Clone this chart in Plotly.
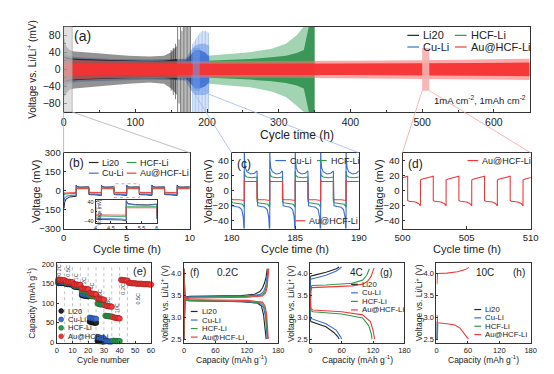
import plotly.graph_objects as go

W, H = 554, 374
FONT = "Liberation Sans, Arial, Helvetica, sans-serif"
INK = "#222222"
C_LI20 = "#262626"
C_CU = "#3a6fd0"
C_HCF = "#2f9a4e"
C_AU = "#f03a3a"

SERIES = ["Li20", "Cu-Li", "HCF-Li", "Au@HCF-Li"]
SCOL = [C_LI20, C_CU, C_HCF, C_AU]

# ---------------- panel (a): long-term cycling envelopes (mV) ----------------
li20_t = [0, 3, 8, 15, 30, 60, 90, 120, 140, 150, 158]
li20_hi = [80, 55, 45, 42, 40, 36, 32, 30, 32, 40, 55]
li20_lo = [-65, -60, -48, -45, -42, -38, -34, -31, -34, -45, -60]
li20_core = [30, 28, 26, 25, 24, 22, 20, 19, 20, 22, 24]
li20_spk_t = [150, 153, 156, 159, 161, 163, 165, 167, 169, 171, 173, 175, 177]
li20_spk_hi = [45, 50, 60, 100, 70, 100, 90, 100, 100, 100, 100, 100, 100]
li20_spk_lo = [-50, -60, -70, -100, -80, -100, -100, -100, -100, -100, -100, -100, -100]

cu_t = [0, 5, 20, 60, 120, 170, 178, 183, 190, 197, 203]
cu_hi = [40, 32, 28, 25, 23, 25, 45, 55, 60, 60, 55]
cu_lo = [-45, -34, -29, -26, -24, -26, -50, -60, -60, -60, -55]
cu_core = [28, 25, 23, 21, 19, 20, 35, 45, 45, 40, 30]
cu_spk_t = [180, 182, 184, 186, 188, 190, 192, 194, 196, 198, 200, 202]
cu_spk_hi = [60, 65, 70, 75, 80, 85, 88, 90, 90, 90, 88, 85]
cu_spk_lo = [-100, -100, -100, -100, -100, -100, -100, -100, -100, -100, -100, -100]

hcf_t = [0, 20, 60, 120, 180, 200, 230, 260, 290, 310, 325, 335, 342, 350]
hcf_hi = [30, 25, 22, 22, 25, 32, 36, 40, 48, 60, 80, 100, 100, 100]
hcf_lo = [-30, -25, -22, -22, -25, -33, -38, -42, -52, -65, -85, -100, -100, -100]
hcf_core = [20, 18, 17, 17, 18, 20, 22, 24, 28, 32, 38, 45, 100, 100]

au_t = [0, 5, 20, 60, 120, 200, 300, 400, 500, 580, 650]
au_hi = [28, 24, 22, 20, 19, 19, 19, 20, 21, 23, 25]
au_lo = [-30, -25, -23, -21, -20, -20, -20, -21, -22, -24, -25]
au_core = [17, 15, 14, 13, 13, 13, 13, 13, 14, 15, 16]

# ---------------- panel (b): first 10 h (mV) ----------------
b_first_f = [0, 0.02, 0.08, 0.2, 0.5, 1.0]
li20_b_first = [-10, -140, -95, -65, -50, -45]
cu_b_first = [-10, -80, -60, -45, -38, -36]
hcf_b_first = [-10, -35, -30, -26, -24, -23]
au_b_first = [-10, -22, -20, -18, -17, -16]
b_neg_f = [0, 0.1, 0.5, 0.85, 1.0]
b_pos_f = [0, 0.05, 0.3, 0.7, 1.0]
li20_b_neg = [-30, -32, -33, -34, -38]
li20_b_pos = [45, 32, 28, 27, 30]
cu_b_neg = [-25, -27, -28, -30, -34]
cu_b_pos = [40, 30, 26, 25, 28]
hcf_b_neg = [-17, -18, -19, -19, -21]
hcf_b_pos = [25, 20, 19, 19, 20]
au_b_neg = [-13, -14, -14, -14, -15]
au_b_pos = [17, 15, 15, 15, 15]

# ---------------- panel (c): 180-190 h (mV) ----------------
cu_c_neg_f = [0, 0.05, 0.3, 0.6, 0.8, 0.92, 1.0]
cu_c_neg = [-18, -20, -21, -22, -25, -35, -60]
cu_c_pos_f = [0, 0.02, 0.08, 0.2, 0.5, 0.8, 1.0]
cu_c_pos = [60, 42, 30, 25, 22, 23, 26]
hcf_c_neg_f = [0, 0.1, 0.5, 0.85, 1.0]
hcf_c_neg = [-14, -16, -17, -18, -22]
hcf_c_pos_f = [0, 0.05, 0.2, 0.6, 1.0]
hcf_c_pos = [26, 20, 18, 17, 18]
au_c_neg_f = [0, 0.1, 0.6, 1.0]
au_c_neg = [-11, -12, -12, -13]
au_c_pos_f = [0, 0.05, 0.5, 1.0]
au_c_pos = [14, 12, 12, 12]

# ---------------- panel (d): 500-510 h (mV) ----------------
au_d_neg_f = [0, 0.1, 0.6, 0.85, 1.0]
au_d_neg = [-13, -14, -15, -17, -20]
au_d_pos_f = [0, 0.1, 0.6, 1.0]
au_d_pos = [14, 15, 17, 19]

# ---------------- panel (e): rate capability (mAh/g) ----------------
li20_cap = [152, 153, 152, 152, 151, 150, 149, 149, 148, 148, 143, 142, 142, 141, 141,
            121, 120, 119, 119, 118, 53, 52, 51, 50, 50, 4, 3, 3, 2, 2]
cu_cap = [155, 155, 154, 154, 154, 152, 151, 151, 151, 150, 145, 144, 144, 143, 143,
          124, 123, 122, 122, 121, 63, 62, 61, 60, 60, 13, 12, 11, 11, 10, 3, 3, 2, 2, 2]
hcf_cap = [158, 158, 157, 157, 157, 153, 153, 152, 152, 152, 146, 145, 145, 144, 144,
           131, 130, 130, 129, 129, 119, 118, 118, 117, 117, 99, 98, 97, 97, 96,
           68, 67, 67, 66, 66, 4, 3, 3, 3, 3]
au_cap = [161, 160, 160, 159, 159, 156, 155, 155, 154, 154, 149, 148, 148, 147, 147,
          138, 137, 137, 136, 136, 126, 125, 124, 124, 123, 112, 111, 110, 110, 109,
          94, 93, 92, 92, 91, 64, 63, 62, 62, 61, 160, 159, 159, 158, 158,
          152, 152, 151, 151, 151, 150, 150, 150, 150, 149, 149, 149, 149, 148, 148]
e_rate_labels = ["0.2C", "0.5C", "1C", "2C", "4C", "6C", "8C", "10C", "0.2C", "0.5C"]
e_seg_bounds = [5, 10, 15, 20, 25, 30, 35, 40, 45]

# ---------------- panels (f,g,h): charge/discharge profiles (mAh/g, V) ----------------
li20_f_cc = [0, 0.5, 2, 10, 60, 110, 135, 145, 150, 154, 157, 159]
li20_f_cv = [2.5, 3.3, 3.45, 3.47, 3.48, 3.49, 3.52, 3.58, 3.66, 3.78, 3.92, 4.1]
li20_f_dc = [0, 0.5, 2, 10, 60, 110, 140, 148, 152, 155, 157]
li20_f_dv = [4.1, 3.5, 3.39, 3.37, 3.36, 3.35, 3.32, 3.25, 3.05, 2.75, 2.5]
cu_f_cc = [0, 0.5, 2, 10, 60, 120, 145, 152, 156, 159, 161]
cu_f_cv = [2.5, 3.3, 3.44, 3.46, 3.47, 3.48, 3.51, 3.58, 3.7, 3.9, 4.1]
cu_f_dc = [0, 0.5, 2, 10, 60, 120, 145, 152, 156, 158, 159]
cu_f_dv = [4.1, 3.5, 3.38, 3.37, 3.36, 3.35, 3.31, 3.22, 3.0, 2.7, 2.5]
hcf_f_cc = [0, 0.5, 2, 10, 60, 120, 148, 154, 158, 160, 161]
hcf_f_cv = [2.5, 3.3, 3.43, 3.45, 3.46, 3.47, 3.5, 3.56, 3.7, 3.9, 4.1]
hcf_f_dc = [0, 0.5, 2, 10, 60, 120, 148, 154, 157, 159, 160]
hcf_f_dv = [4.1, 3.5, 3.39, 3.38, 3.37, 3.36, 3.32, 3.22, 3.0, 2.7, 2.5]
au_f_cc = [0, 0.5, 2, 10, 60, 120, 150, 156, 159, 161, 162]
au_f_cv = [2.5, 3.3, 3.41, 3.43, 3.44, 3.45, 3.48, 3.55, 3.7, 3.9, 4.1]
au_f_dc = [0, 0.5, 2, 10, 60, 120, 150, 155, 158, 160, 161]
au_f_dv = [4.1, 3.5, 3.41, 3.4, 3.39, 3.38, 3.34, 3.25, 3.05, 2.75, 2.5]

li20_g_cc = [0, 0.5, 10, 30, 50, 55]
li20_g_cv = [2.9, 3.93, 3.96, 4.02, 4.1, 4.14]
li20_g_dc = [0, 1, 30, 45, 53, 55]
li20_g_dv = [3.0, 2.9, 2.78, 2.65, 2.55, 2.5]
cu_g_cc = [0, 0.5, 10, 30, 50, 60]
cu_g_cv = [2.97, 3.86, 3.89, 3.95, 4.05, 4.14]
cu_g_dc = [0, 1, 30, 50, 58, 60]
cu_g_dv = [3.05, 2.97, 2.85, 2.7, 2.55, 2.5]
hcf_g_cc = [0.5, 1, 3, 30, 80, 100, 108, 113]
hcf_g_cv = [3.12, 3.6, 3.72, 3.73, 3.77, 3.84, 3.95, 4.1]
hcf_g_dc = [0.5, 1, 5, 60, 100, 112, 117, 118]
hcf_g_dv = [3.3, 3.15, 3.12, 3.07, 2.98, 2.8, 2.6, 2.5]
au_g_cc = [0.5, 1, 3, 30, 80, 100, 110, 116, 122]
au_g_cv = [3.2, 3.58, 3.67, 3.68, 3.71, 3.75, 3.82, 3.92, 4.12]
au_g_dc = [0.5, 1, 5, 60, 100, 115, 120, 123]
au_g_dv = [3.35, 3.2, 3.16, 3.12, 3.05, 2.9, 2.7, 2.5]

li20_h_c = [0.4, 0.6, 1.0]
li20_h_v = [2.5, 2.75, 2.9]
cu_h_c = [0.8, 1.0, 1.5]
cu_h_v = [2.5, 2.75, 2.9]
hcf_h_c = [1.5, 1.8, 2.5]
hcf_h_v = [2.5, 2.7, 2.85]
au_h_cc = [0.8, 0.9, 2, 20, 40, 55, 62]
au_h_cv = [3.75, 3.97, 3.99, 4.0, 4.03, 4.08, 4.13]
au_h_dc = [0.8, 1, 2, 20, 35, 45, 52, 58, 61]
au_h_dv = [3.05, 2.9, 2.87, 2.85, 2.82, 2.75, 2.65, 2.55, 2.5]

# ---------------- layout geometry (pixels) ----------------
BOX = {
    'a': (49, 529, 13, 101), 'b': (49, 179, 143, 221), 'c': (222, 353, 143, 221),
    'd': (398, 530, 143, 221), 'e': (42, 139, 257, 339), 'f': (173, 270, 257, 339),
    'g': (303, 400, 257, 339), 'h': (433, 530, 257, 339), 'i': (82, 145, 192, 215),
}
AXID = {'a': '', 'b': '2', 'c': '3', 'd': '4', 'e': '5', 'f': '6', 'g': '7', 'h': '8', 'i': '9'}
RNG = {
    'a': ([0, 650], [-100, 100]), 'b': ([0, 10], [-300, 300]), 'c': ([180, 190], [-50, 50]),
    'd': ([500, 510], [-50, 50]), 'e': ([0, 60], [-2, 202]), 'f': ([0, 180], [2.41, 4.22]),
    'g': ([0, 180], [2.41, 4.22]), 'h': ([0, 180], [2.41, 4.22]), 'i': ([4, 6], [-45, 45]),
}


def px2x(p):
    return p / W


def py2y(p):
    return 1 - p / H


def data2px(panel, x, y):
    x0, x1, y0, y1 = BOX[panel]
    (xa, xb), (ya, yb) = RNG[panel]
    return x0 + (x - xa) / (xb - xa) * (x1 - x0), y1 - (y - ya) / (yb - ya) * (y1 - y0)


fig = go.Figure()


def add(tr, panel):
    tr.update(xaxis='x' + AXID[panel], yaxis='y' + AXID[panel], showlegend=False, hoverinfo='skip')
    fig.add_trace(tr)


def band(panel, t, hi, lo, color):
    add(go.Scatter(x=list(t) + list(t)[::-1], y=list(hi) + list(lo)[::-1], fill='toself',
                   fillcolor=color, mode='lines', line=dict(width=0)), panel)


def spikes(panel, t, hi, lo, color, w=0.8):
    xs, ys = [], []
    for ti, h, l in zip(t, hi, lo):
        xs += [ti, ti, None]
        ys += [l, h, None]
    add(go.Scatter(x=xs, y=ys, mode='lines', line=dict(color=color, width=w)), panel)


def wave(t0, n_half, first_sign, neg_f, neg_v, pos_f, pos_v, first=None):
    xs, ys = [], []
    for k in range(n_half):
        sign = first_sign if k % 2 == 0 else -first_sign
        if k == 0 and first is not None:
            f, v = first
        elif sign < 0:
            f, v = neg_f, neg_v
        else:
            f, v = pos_f, pos_v
        for fi, vi in zip(f, v):
            xs.append(t0 + k + fi)
            ys.append(vi)
    return xs, ys


# ---- panel (a) ----
band('a', hcf_t, hcf_hi, hcf_lo, 'rgba(70,170,105,0.5)')
band('a', hcf_t, hcf_core, [-v for v in hcf_core], 'rgba(40,140,70,0.85)')
spikes('a', cu_spk_t, cu_spk_hi, cu_spk_lo, 'rgba(100,150,230,0.65)')
band('a', cu_t, cu_hi, cu_lo, 'rgba(100,150,230,0.55)')
band('a', cu_t, cu_core, [-v for v in cu_core], 'rgba(60,110,210,0.85)')
band('a', li20_t, li20_hi, li20_lo, 'rgba(40,40,40,0.5)')
band('a', li20_t, li20_core, [-v for v in li20_core], 'rgba(25,25,25,0.8)')
spikes('a', li20_spk_t, li20_spk_hi, li20_spk_lo, 'rgba(40,40,40,0.75)')
band('a', au_t, au_hi, au_lo, 'rgba(252,110,110,0.6)')
band('a', au_t, au_core, [-v for v in au_core], 'rgba(245,50,50,0.95)')

# ---- panel (b) and inset ----
b_sets = [
    (li20_b_first, li20_b_neg, li20_b_pos, C_LI20),
    (cu_b_first, cu_b_neg, cu_b_pos, C_CU),
    (hcf_b_first, hcf_b_neg, hcf_b_pos, C_HCF),
    (au_b_first, au_b_neg, au_b_pos, C_AU),
]
for first, neg, pos, col in b_sets:
    xs, ys = wave(0, 10, -1, b_neg_f, neg, b_pos_f, pos, first=(b_first_f, first))
    add(go.Scatter(x=xs, y=ys, mode='lines', line=dict(color=col, width=1)), 'b')
for first, neg, pos, col in b_sets:
    xs, ys = wave(0, 10, -1, b_neg_f, neg, b_pos_f, pos, first=(b_first_f, first))
    add(go.Scatter(x=xs, y=ys, mode='lines', line=dict(color=col, width=0.8)), 'i')

# ---- panel (c) ----
for nf, nv, pf, pv, col in [
    (hcf_c_neg_f, hcf_c_neg, hcf_c_pos_f, hcf_c_pos, C_HCF),
    (cu_c_neg_f, cu_c_neg, cu_c_pos_f, cu_c_pos, C_CU),
    (au_c_neg_f, au_c_neg, au_c_pos_f, au_c_pos, C_AU),
]:
    xs, ys = wave(180, 10, -1, nf, nv, pf, pv)
    add(go.Scatter(x=xs, y=ys, mode='lines', line=dict(color=col, width=1.1)), 'c')

# ---- panel (d) ----
xs, ys = wave(499.4, 11, 1, au_d_neg_f, au_d_neg, au_d_pos_f, au_d_pos)
add(go.Scatter(x=xs, y=ys, mode='lines', line=dict(color=C_AU, width=1.1)), 'd')

# ---- panel (e) ----
for xb in e_seg_bounds:
    add(go.Scatter(x=[xb, xb], y=[0, 200], mode='lines',
                   line=dict(color='#9a9a9a', width=0.6, dash='dot')), 'e')
for caps, col, edge in [(li20_cap, C_LI20, '#000000'), (cu_cap, C_CU, '#1d3f8a'),
                        (hcf_cap, C_HCF, '#1b5e2e'), (au_cap, C_AU, '#a51818')]:
    add(go.Scatter(x=list(range(1, len(caps) + 1)), y=caps, mode='markers', cliponaxis=False,
                   marker=dict(color=col, size=5.5, line=dict(color=edge, width=0.6))), 'e')
e_lab_x = [1.5, 7, 12, 17, 22.5, 27.5, 33, 38, 42.5, 52]
e_lab_y = [186, 183, 168, 158, 143, 128, 108, 88, 136, 113]

# ---- panels (f, g, h) ----
for cc, cv, dc, dv, col in [
    (li20_f_cc, li20_f_cv, li20_f_dc, li20_f_dv, C_LI20), (cu_f_cc, cu_f_cv, cu_f_dc, cu_f_dv, C_CU),
    (hcf_f_cc, hcf_f_cv, hcf_f_dc, hcf_f_dv, C_HCF), (au_f_cc, au_f_cv, au_f_dc, au_f_dv, C_AU)]:
    add(go.Scatter(x=cc + [None] + dc, y=cv + [None] + dv, mode='lines',
                   line=dict(color=col, width=1.1)), 'f')
for cc, cv, dc, dv, col in [
    (li20_g_cc, li20_g_cv, li20_g_dc, li20_g_dv, C_LI20), (cu_g_cc, cu_g_cv, cu_g_dc, cu_g_dv, C_CU),
    (hcf_g_cc, hcf_g_cv, hcf_g_dc, hcf_g_dv, C_HCF), (au_g_cc, au_g_cv, au_g_dc, au_g_dv, C_AU)]:
    add(go.Scatter(x=cc + [None] + dc, y=cv + [None] + dv, mode='lines',
                   line=dict(color=col, width=1.1)), 'g')
for c, v, col in [(li20_h_c, li20_h_v, C_LI20), (cu_h_c, cu_h_v, C_CU), (hcf_h_c, hcf_h_v, C_HCF)]:
    add(go.Scatter(x=c, y=v, mode='lines', line=dict(color=col, width=1.1)), 'h')
add(go.Scatter(x=au_h_cc + [None] + au_h_dc, y=au_h_cv + [None] + au_h_dv, mode='lines',
               line=dict(color=C_AU, width=1.1)), 'h')

# ---------------- axes ----------------
AXSTYLE = dict(showline=True, linecolor='#333333', linewidth=1, mirror=True,
               tickcolor='#333333', tickwidth=1, showgrid=False, zeroline=False,
               fixedrange=True)
TICKS = {
    'a': (dict(tickvals=[0, 100, 200, 300, 400, 500, 600]), dict(tickvals=[-80, -40, 0, 40, 80]), 10.5, 3, 'inside'),
    'b': (dict(tickvals=[0, 5, 10]), dict(tickvals=[-300, -150, 0, 150, 300]), 9.5, 2.5, 'inside'),
    'c': (dict(tickvals=[180, 185, 190]), dict(tickvals=[-40, -20, 0, 20, 40]), 9.5, 2.5, 'inside'),
    'd': (dict(tickvals=[500, 505, 510]), dict(tickvals=[-40, -20, 0, 20, 40]), 9.5, 2.5, 'inside'),
    'e': (dict(tickvals=[0, 10, 20, 30, 40, 50, 60]), dict(tickvals=[0, 50, 100, 150, 200]), 7.5, 2, 'inside'),
    'f': (dict(tickvals=[0, 60, 120, 180]), dict(tickvals=[2.5, 3.0, 3.5, 4.0], tickformat='.1f'), 7.5, 2, 'inside'),
    'g': (dict(tickvals=[0, 60, 120, 180]), dict(tickvals=[2.5, 3.0, 3.5, 4.0], tickformat='.1f'), 7.5, 2, 'inside'),
    'h': (dict(tickvals=[0, 60, 120, 180]), dict(tickvals=[2.5, 3.0, 3.5, 4.0], tickformat='.1f'), 7.5, 2, 'inside'),
    'i': (dict(tickvals=[4, 4.5, 5, 5.5, 6]), dict(tickvals=[-40, 0, 40]), 5.5, 1.5, 'inside'),
}
layout_axes = {}
for p, (x0, x1, y0, y1) in BOX.items():
    aid = AXID[p]
    xt, yt, fs, tl, tdir = TICKS[p]
    xa = dict(AXSTYLE, domain=[px2x(x0), px2x(x1)], range=RNG[p][0], anchor='y' + aid, ticks=tdir,
              tickfont=dict(size=fs, family=FONT, color=INK), ticklen=tl, **xt)
    ya = dict(AXSTYLE, domain=[py2y(y1), py2y(y0)], range=RNG[p][1], anchor='x' + aid, ticks=tdir,
              tickfont=dict(size=fs, family=FONT, color=INK), ticklen=tl, **yt)
    if p == 'a':
        xa['minor'] = dict(dtick=50, ticklen=2, ticks='inside', tickcolor='#333333')
        ya['minor'] = dict(dtick=20, ticklen=2, ticks='inside', tickcolor='#333333')
    layout_axes['xaxis' + aid] = xa
    layout_axes['yaxis' + aid] = ya

# ---------------- shapes & annotations ----------------
shapes, annots = [], []


def text(x, y, s, size, anchor='center', angle=0, color=INK):
    annots.append(dict(x=px2x(x), y=py2y(y), xref='paper', yref='paper', text=s, showarrow=False,
                       textangle=angle, xanchor=anchor, yanchor='middle',
                       font=dict(size=size, family=FONT, color=color)))


def pline(xa, ya, xb, yb, color, w=1, dash='solid'):
    shapes.append(dict(type='line', xref='paper', yref='paper', x0=px2x(xa), y0=py2y(ya),
                       x1=px2x(xb), y1=py2y(yb), line=dict(color=color, width=w, dash=dash),
                       layer='above'))


def legend_line(x, y, length, color, label, size):
    pline(x, y, x + length, y, color, 1.2)
    text(x + length + 2, y, label, size, anchor='left')


# highlight rectangles in (a)
shapes.append(dict(type='rect', xref='x', yref='y', x0=0, x1=12, y0=-100, y1=100,
                   fillcolor='rgba(205,205,205,0.6)', line=dict(width=0.6, color='#999999'), layer='above'))
shapes.append(dict(type='rect', xref='x', yref='y', x0=180, x1=190, y0=-50, y1=50,
                   fillcolor='rgba(110,155,230,0.55)', line=dict(width=0), layer='above'))
shapes.append(dict(type='rect', xref='x', yref='y', x0=500, x1=510, y0=-50, y1=50,
                   fillcolor='rgba(245,175,175,0.9)', line=dict(width=0), layer='above'))
# connectors
for (xa_, ya_), corner, col in [((0, -100), ('b', 0), '#b0b0b0'), ((12, -100), ('b', 1), '#b0b0b0'),
                                ((180, -50), ('c', 0), '#9dbbe8'), ((190, -50), ('c', 1), '#9dbbe8'),
                                ((500, -50), ('d', 0), '#f4a3a3'), ((510, -50), ('d', 1), '#f4a3a3')]:
    sx, sy = data2px('a', xa_, ya_)
    bx = BOX[corner[0]][corner[1]]
    by = BOX[corner[0]][2]
    pline(sx, sy, bx, by, col, 0.8)

# inset in (b): white background and dotted zoom box
shapes.append(dict(type='rect', xref='x9', yref='y9', x0=4, x1=6, y0=-45, y1=45,
                   fillcolor='white', line=dict(width=0), layer='below'))
shapes.append(dict(type='rect', xref='x2', yref='y2', x0=4, x1=6, y0=-55, y1=55,
                   fillcolor='rgba(0,0,0,0)', line=dict(width=0.8, color='#f08080', dash='dot'), layer='above'))

# panel labels
text(58, 23, "(a)", 14, anchor='left')
text(53, 153, "(b)", 12, anchor='left')
text(226, 155, "(c)", 12, anchor='left')
text(402, 155, "(d)", 12, anchor='left')
text(118, 265, "(e)", 11, anchor='left')
text(177, 266, "(f)", 10, anchor='left')
text(218, 266, "0.2C", 10)
text(351, 266, "4C", 10)
text(373, 266, "(g)", 10, anchor='left')
text(483, 266, "10C", 10)
text(510, 266, "(h)", 10, anchor='left')

# axis titles
text(17, 57, "Voltage vs. Li/Li<sup>+</sup> (mV)", 10, angle=-90)
text(289, 125, "Cycle time (h)", 12)
for p, xt in [('b', 20), ('c', 197), ('d', 373)]:
    x0, x1, y0, y1 = BOX[p]
    text(xt, (y0 + y1) / 2, "Voltage (mV)", 11, angle=-90)
    text((x0 + x1) / 2, 242, "Cycle time (h)", 11)
text(87, 204, "Voltage (mV)", 4.5, angle=-90)
text(16, 298, "Capacity (mAh g<sup>-1</sup>)", 8.5, angle=-90)
text(90.5, 356, "Cycle number", 8.5)
for p, xt in [('f', 153), ('g', 283), ('h', 415)]:
    x0, x1, y0, y1 = BOX[p]
    text(xt, 298, "Voltage vs. Li/Li<sup>+</sup> (V)", 8.5, angle=-90)
    text((x0 + x1) / 2, 356, "Capacity (mAh g<sup>-1</sup>)", 8.5)

text(527, 89, "1mA cm<sup>-2</sup>, 1mAh cm<sup>-2</sup>", 9.5, anchor='right')

# e: rate labels
for lab, lx, ly in zip(e_rate_labels, e_lab_x, e_lab_y):
    px_, py_ = data2px('e', lx, ly)
    text(px_, py_, lab, 5.5, angle=-90, color='#444444')

# legends
legend_line(403, 22, 12, C_LI20, "Li20", 11)
legend_line(452, 22, 12, C_HCF, "HCF-Li", 11)
legend_line(403, 34, 12, C_CU, "Cu-Li", 11)
legend_line(452, 34, 12, C_AU, "Au@HCF-Li", 11)

legend_line(75, 153, 10, C_LI20, "Li20", 9)
legend_line(114, 153, 10, C_HCF, "HCF-Li", 9)
legend_line(75, 164, 10, C_CU, "Cu-Li", 9)
legend_line(114, 164, 10, C_AU, "Au@HCF-Li", 9)

legend_line(267, 151, 11, C_CU, "Cu-Li", 9)
legend_line(310, 151, 10, C_HCF, "HCF-Li", 9)
legend_line(288, 213, 10, C_AU, "Au@HCF-Li", 9)
legend_line(465, 151, 11, C_AU, "Au@HCF-Li", 9)

for i, (lab, col, edge) in enumerate(zip(SERIES, SCOL, ['#000', '#1d3f8a', '#1b5e2e', '#a51818'])):
    cy = 306 + i * 8.7
    shapes.append(dict(type='circle', xref='paper', yref='paper', x0=px2x(44), x1=px2x(49),
                       y0=py2y(cy + 2.5), y1=py2y(cy - 2.5), fillcolor=col,
                       line=dict(color=edge, width=0.6), layer='above'))
    text(51, cy, lab, 7.5, anchor='left')

for i, (lab, col) in enumerate(zip(SERIES, SCOL)):
    legend_line(180, 306.5 + i * 8.8, 7, col, lab, 7.8)
    legend_line(345, 278.5 + i * 8.8, 7, col, lab, 7.8)
    legend_line(472, 304.5 + i * 8.6, 7, col, lab, 7.8)

fig.update_layout(
    width=W, height=H, margin=dict(l=0, r=0, t=0, b=0), autosize=False,
    paper_bgcolor='white', plot_bgcolor='white', showlegend=False,
    font=dict(family=FONT, color=INK), shapes=shapes, annotations=annots, **layout_axes,
)
fig.write_html("out.html")
